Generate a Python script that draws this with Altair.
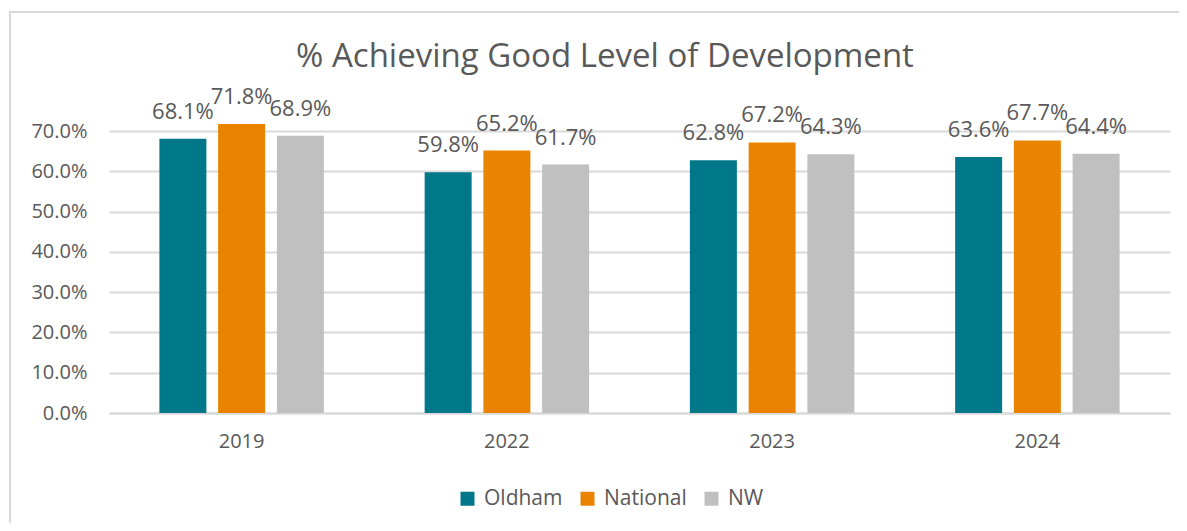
import altair as alt
import pandas as pd

years = ["2019", "2022", "2023", "2024"]
series = ["Oldham", "National", "NW"]
oldham = [0.681, 0.598, 0.628, 0.636]
national = [0.718, 0.652, 0.672, 0.677]
nw = [0.689, 0.617, 0.643, 0.644]
colors = ["#00788A", "#E98300", "#BFC0BF"]
y_ticks = [0.0, 0.1, 0.2, 0.3, 0.4, 0.5, 0.6, 0.7]
title_text = "% Achieving Good Level of Development"

rows = []
for i, y in enumerate(years):
    for s, vals in zip(series, [oldham, national, nw]):
        rows.append({"year": y, "series": s, "value": vals[i]})
df = pd.DataFrame(rows)

FONT = "Open Sans"
TXT = "#595959"
W, H = 1061, 314

x_enc = alt.X("year:N", sort=years, title=None,
              scale=alt.Scale(paddingInner=0.38, paddingOuter=0.19),
              axis=alt.Axis(labelAngle=0, ticks=False, domainColor="#D9D9D9", domainWidth=2,
                            labelFontSize=20, labelColor=TXT, labelFont=FONT, labelPadding=18))
y_enc = alt.Y("value:Q", title=None,
              scale=alt.Scale(domain=[0, 0.78], nice=False, zero=True),
              axis=alt.Axis(values=y_ticks, format=".1%", ticks=False, domain=False,
                            gridColor="#D9D9D9", gridWidth=2,
                            labelFontSize=20, labelColor=TXT, labelFont=FONT, labelPadding=22))
xo = alt.XOffset("series:N", sort=series, scale=alt.Scale(paddingInner=0.2, paddingOuter=0))
color = alt.Color("series:N", sort=series, scale=alt.Scale(domain=series, range=colors),
                  legend=alt.Legend(title=None, orient="none", direction="horizontal",
                                    legendX=348, legendY=389, symbolType="square",
                                    symbolSize=196, symbolStrokeWidth=0, labelFontSize=21,
                                    labelColor=TXT, labelFont=FONT, columnPadding=14,
                                    labelOffset=6))

base = alt.Chart(df)
bars = base.mark_bar().encode(x=x_enc, y=y_enc, xOffset=xo, color=color)
labels = base.mark_text(baseline="alphabetic", dy=-20, fontSize=22, font=FONT, color=TXT).encode(
    x=alt.X("year:N", sort=years), y="value:Q", xOffset=xo,
    text=alt.Text("value:Q", format=".1%"))

border = alt.Chart(pd.DataFrame({"a": [0]})).mark_rect(
    fill=None, stroke="#D9D9D9", strokeWidth=2).encode(
    x=alt.value(-99), x2=alt.value(1200), y=alt.value(-87), y2=alt.value(600))

title = alt.Chart(pd.DataFrame({"t": [title_text]})).mark_text(
    fontSize=33, font=FONT, color=TXT, baseline="alphabetic", align="center").encode(
    text="t:N", x=alt.value(496), y=alt.value(-32))

chart = alt.layer(border, bars, labels, title).properties(
    width=W, height=H,
    autosize=alt.AutoSizeParams(type="none"),
    padding={"left": 101, "top": 91, "right": 9, "bottom": 110},
).configure(background="white").configure_view(stroke=None)

chart.save("out.html", embed_options={"renderer": "svg", "actions": False})
